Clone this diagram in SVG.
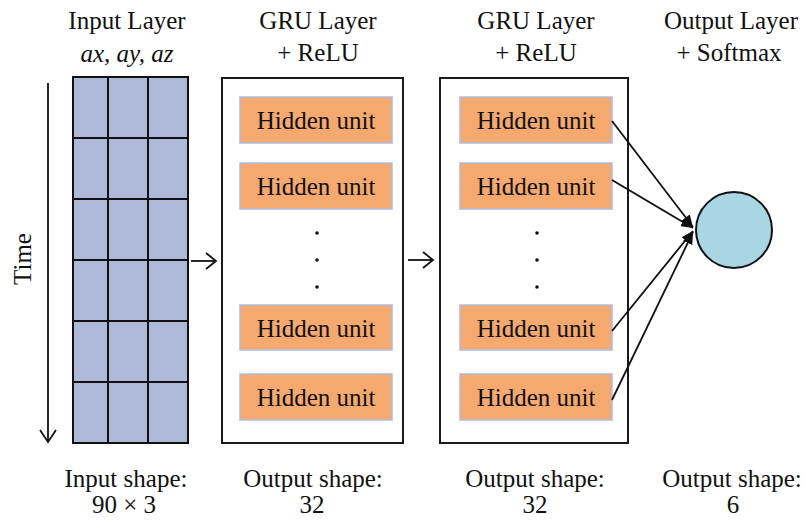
<svg xmlns="http://www.w3.org/2000/svg" width="805" height="520" viewBox="0 0 805 520" font-family="'Liberation Serif', 'Times New Roman', 'DejaVu Serif', serif">
  <style>
    text { font-family: "Liberation Serif", "Times New Roman", "DejaVu Serif", serif; font-size: 25px; fill: #111; }
    .mid { text-anchor: middle; }
    .it { font-style: italic; }
    .frame { fill: #fff; stroke: #1a1a1a; stroke-width: 2; }
    .cell { fill: #aeb8d8; stroke: #111; stroke-width: 2; }
    .unit { fill: #f5a96f; stroke: #aebbe0; stroke-width: 1.5; }
    .dot { fill: #111; }
    .line { fill: none; stroke: #111; stroke-width: 1.8; }
    .open { fill: none; stroke: #111; stroke-width: 1.8; }
  </style>
  <defs>
    <marker id="solid" viewBox="0 0 12 10" refX="12" refY="5" markerWidth="12" markerHeight="10" markerUnits="userSpaceOnUse" orient="auto">
      <path d="M0,0 L12,5 L0,10 z" fill="#111"/>
    </marker>
  </defs>

  <rect width="805" height="520" fill="#fff"/>

  <!-- Column headings -->
  <g id="headings">
    <text class="mid" x="127" y="29">Input Layer</text>
    <text class="mid it" x="127" y="62">ax, ay, az</text>
    <text class="mid" x="318" y="29">GRU Layer</text>
    <text class="mid" x="318" y="61">+ ReLU</text>
    <text class="mid" x="536" y="29">GRU Layer</text>
    <text class="mid" x="536" y="61">+ ReLU</text>
    <text class="mid" x="731" y="29">Output Layer</text>
    <text class="mid" x="729" y="61">+ Softmax</text>
  </g>

  <!-- Time axis -->
  <g id="time-axis">
    <text class="mid" transform="translate(31,259) rotate(-90)">Time</text>
    <line class="line" x1="48" y1="83" x2="48" y2="441"/>
    <polyline class="open" points="40,430 48,442 56,430"/>
  </g>

  <!-- Input layer: 6 x 3 grid of samples -->
  <g id="input-layer">
    <rect class="cell" x="73" y="77" width="115" height="366"/>
    <line class="cell" x1="108" y1="77" x2="108" y2="443"/>
    <line class="cell" x1="148" y1="77" x2="148" y2="443"/>
    <line class="cell" x1="73" y1="138" x2="188" y2="138"/>
    <line class="cell" x1="73" y1="199" x2="188" y2="199"/>
    <line class="cell" x1="73" y1="260" x2="188" y2="260"/>
    <line class="cell" x1="73" y1="321" x2="188" y2="321"/>
    <line class="cell" x1="73" y1="382" x2="188" y2="382"/>
  </g>

  <!-- First GRU layer -->
  <g id="gru-layer-1">
    <rect class="frame" x="222" y="78" width="181" height="365"/>
    <rect class="unit" x="240" y="97" width="152" height="46"/>
    <text class="mid" x="316" y="129">Hidden unit</text>
    <rect class="unit" x="240" y="163" width="152" height="46"/>
    <text class="mid" x="316" y="195">Hidden unit</text>
    <circle class="dot" cx="317" cy="233" r="1.8"/>
    <circle class="dot" cx="317" cy="260" r="1.8"/>
    <circle class="dot" cx="317" cy="287" r="1.8"/>
    <rect class="unit" x="240" y="305" width="152" height="45"/>
    <text class="mid" x="316" y="337">Hidden unit</text>
    <rect class="unit" x="240" y="374" width="152" height="46"/>
    <text class="mid" x="316" y="406">Hidden unit</text>
  </g>

  <!-- Second GRU layer -->
  <g id="gru-layer-2">
    <rect class="frame" x="440" y="78" width="188" height="365"/>
    <rect class="unit" x="460" y="97" width="152" height="46"/>
    <text class="mid" x="536" y="129">Hidden unit</text>
    <rect class="unit" x="460" y="163" width="152" height="46"/>
    <text class="mid" x="536" y="195">Hidden unit</text>
    <circle class="dot" cx="537" cy="233" r="1.8"/>
    <circle class="dot" cx="537" cy="260" r="1.8"/>
    <circle class="dot" cx="537" cy="287" r="1.8"/>
    <rect class="unit" x="460" y="305" width="152" height="45"/>
    <text class="mid" x="536" y="337">Hidden unit</text>
    <rect class="unit" x="460" y="374" width="152" height="46"/>
    <text class="mid" x="536" y="406">Hidden unit</text>
  </g>

  <!-- Output neuron -->
  <g id="output-layer">
    <circle cx="734" cy="230" r="38" fill="#a8d7e3" stroke="#111" stroke-width="2"/>
  </g>

  <!-- Connectors -->
  <g id="connectors">
    <line class="line" x1="191" y1="261" x2="215" y2="261"/>
    <polyline class="open" points="206,253 216,261 206,269"/>
    <line class="line" x1="408" y1="260" x2="432" y2="260"/>
    <polyline class="open" points="423,252 433,260 423,268"/>
    <line class="line" x1="612" y1="121" x2="693" y2="227" marker-end="url(#solid)"/>
    <line class="line" x1="612" y1="180" x2="693" y2="228" marker-end="url(#solid)"/>
    <line class="line" x1="612" y1="331" x2="693" y2="231" marker-end="url(#solid)"/>
    <line class="line" x1="612" y1="400" x2="693" y2="232" marker-end="url(#solid)"/>
  </g>

  <!-- Shape annotations -->
  <g id="shapes">
    <text class="mid" x="126" y="487">Input shape:</text>
    <text class="mid" x="124" y="513">90 × 3</text>
    <text class="mid" x="313" y="487">Output shape:</text>
    <text class="mid" x="312" y="513">32</text>
    <text class="mid" x="535" y="487">Output shape:</text>
    <text class="mid" x="535" y="513">32</text>
    <text class="mid" x="732" y="487">Output shape:</text>
    <text class="mid" x="733" y="513">6</text>
  </g>
</svg>
